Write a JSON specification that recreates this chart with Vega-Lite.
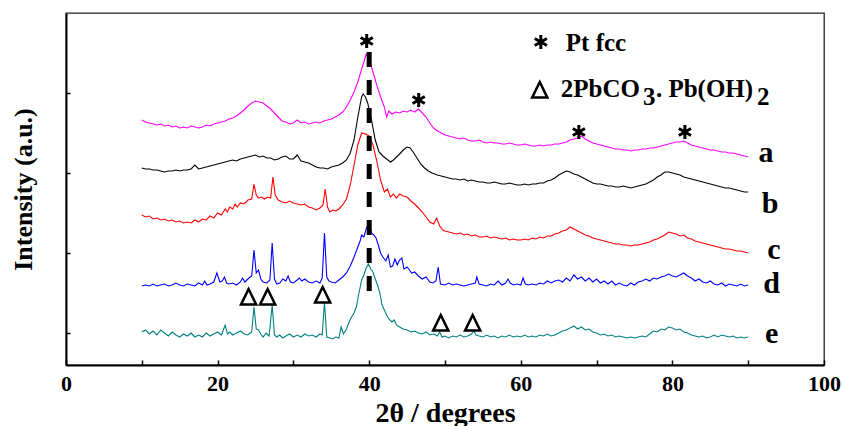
{
  "$schema": "https://vega.github.io/schema/vega-lite/v6.json",
  "width": 758,
  "height": 352,
  "autosize": "none",
  "padding": {"left": 66, "top": 13, "right": 18, "bottom": 61},
  "background": "white",
  "config": {
    "view": {"stroke": "#222", "strokeWidth": 1.3},
    "axis": {"labelFont": "Liberation Serif", "titleFont": "Liberation Serif", "grid": false},
    "text": {"font": "Liberation Serif"}
  },
  "datasets": {
    "curves": [
      {"s":"a","x":10,"y":245},{"s":"a","x":10.5,"y":243},{"s":"a","x":11,"y":242},{"s":"a","x":11.5,"y":241},{"s":"a","x":12,"y":240},{"s":"a","x":12.5,"y":241},{"s":"a","x":13,"y":239},{"s":"a","x":13.5,"y":240},{"s":"a","x":14,"y":238},{"s":"a","x":14.5,"y":239},{"s":"a","x":15,"y":237},{"s":"a","x":15.5,"y":238},{"s":"a","x":16,"y":237},{"s":"a","x":16.5,"y":239},{"s":"a","x":17,"y":238},{"s":"a","x":17.5,"y":237},{"s":"a","x":18,"y":238},{"s":"a","x":18.5,"y":240},{"s":"a","x":19,"y":239},{"s":"a","x":19.5,"y":241},{"s":"a","x":20,"y":242},{"s":"a","x":20.5,"y":243},{"s":"a","x":21,"y":244},{"s":"a","x":21.5,"y":246},{"s":"a","x":22,"y":247},{"s":"a","x":22.5,"y":249},{"s":"a","x":23,"y":252},{"s":"a","x":23.5,"y":255},{"s":"a","x":24,"y":259},{"s":"a","x":24.5,"y":262},{"s":"a","x":25,"y":264},{"s":"a","x":25.5,"y":263},{"s":"a","x":26,"y":262},{"s":"a","x":26.5,"y":259},{"s":"a","x":27,"y":256},{"s":"a","x":27.5,"y":252},{"s":"a","x":28,"y":248},{"s":"a","x":28.5,"y":244},{"s":"a","x":29,"y":243},{"s":"a","x":29.5,"y":241},{"s":"a","x":30,"y":242},{"s":"a","x":30.5,"y":245},{"s":"a","x":31,"y":242},{"s":"a","x":31.5,"y":243},{"s":"a","x":32,"y":241},{"s":"a","x":32.5,"y":242},{"s":"a","x":33,"y":243},{"s":"a","x":33.5,"y":242},{"s":"a","x":34,"y":244},{"s":"a","x":34.5,"y":245},{"s":"a","x":35,"y":246},{"s":"a","x":35.5,"y":248},{"s":"a","x":36,"y":250},{"s":"a","x":36.5,"y":253},{"s":"a","x":37,"y":258},{"s":"a","x":37.5,"y":265},{"s":"a","x":38,"y":273},{"s":"a","x":38.5,"y":283},{"s":"a","x":39,"y":296},{"s":"a","x":39.3,"y":303},{"s":"a","x":39.6,"y":311},{"s":"a","x":40,"y":306},{"s":"a","x":40.5,"y":293},{"s":"a","x":41,"y":280},{"s":"a","x":41.5,"y":268},{"s":"a","x":42,"y":258},{"s":"a","x":42.3,"y":248},{"s":"a","x":42.6,"y":254},{"s":"a","x":43,"y":251},{"s":"a","x":43.5,"y":253},{"s":"a","x":44,"y":252},{"s":"a","x":44.5,"y":254},{"s":"a","x":45,"y":253},{"s":"a","x":45.5,"y":255},{"s":"a","x":46,"y":253},{"s":"a","x":46.5,"y":256},{"s":"a","x":47,"y":252},{"s":"a","x":47.5,"y":248},{"s":"a","x":48,"y":242},{"s":"a","x":48.5,"y":237},{"s":"a","x":49,"y":234},{"s":"a","x":49.5,"y":232},{"s":"a","x":50,"y":230},{"s":"a","x":50.5,"y":229},{"s":"a","x":51,"y":228},{"s":"a","x":51.5,"y":227},{"s":"a","x":52,"y":226},{"s":"a","x":52.5,"y":227},{"s":"a","x":53,"y":225},{"s":"a","x":53.5,"y":224},{"s":"a","x":54,"y":224},{"s":"a","x":54.5,"y":225},{"s":"a","x":55,"y":223},{"s":"a","x":55.5,"y":222},{"s":"a","x":56,"y":223},{"s":"a","x":56.5,"y":222},{"s":"a","x":57,"y":222},{"s":"a","x":57.5,"y":221},{"s":"a","x":58,"y":221},{"s":"a","x":58.5,"y":222},{"s":"a","x":59,"y":221},{"s":"a","x":59.5,"y":220},{"s":"a","x":60,"y":220},{"s":"a","x":60.5,"y":221},{"s":"a","x":61,"y":220},{"s":"a","x":61.5,"y":219},{"s":"a","x":62,"y":219},{"s":"a","x":62.5,"y":220},{"s":"a","x":63,"y":219},{"s":"a","x":63.5,"y":220},{"s":"a","x":64,"y":220},{"s":"a","x":64.5,"y":221},{"s":"a","x":65,"y":221},{"s":"a","x":65.5,"y":222},{"s":"a","x":66,"y":223},{"s":"a","x":66.5,"y":225},{"s":"a","x":67,"y":226},{"s":"a","x":67.5,"y":227},{"s":"a","x":68,"y":229},{"s":"a","x":68.5,"y":226},{"s":"a","x":69,"y":224},{"s":"a","x":69.5,"y":222},{"s":"a","x":70,"y":221},{"s":"a","x":70.5,"y":220},{"s":"a","x":71,"y":219},{"s":"a","x":71.5,"y":218},{"s":"a","x":72,"y":217},{"s":"a","x":72.5,"y":216},{"s":"a","x":73,"y":216},{"s":"a","x":73.5,"y":215},{"s":"a","x":74,"y":215},{"s":"a","x":74.5,"y":214},{"s":"a","x":75,"y":215},{"s":"a","x":75.5,"y":215},{"s":"a","x":76,"y":216},{"s":"a","x":76.5,"y":216},{"s":"a","x":77,"y":217},{"s":"a","x":77.5,"y":217},{"s":"a","x":78,"y":218},{"s":"a","x":78.5,"y":219},{"s":"a","x":79,"y":220},{"s":"a","x":79.5,"y":221},{"s":"a","x":80,"y":222},{"s":"a","x":80.5,"y":223},{"s":"a","x":81,"y":223},{"s":"a","x":81.5,"y":224},{"s":"a","x":82,"y":222},{"s":"a","x":82.5,"y":220},{"s":"a","x":83,"y":219},{"s":"a","x":83.5,"y":218},{"s":"a","x":84,"y":217},{"s":"a","x":84.5,"y":216},{"s":"a","x":85,"y":215},{"s":"a","x":85.5,"y":215},{"s":"a","x":86,"y":214},{"s":"a","x":86.5,"y":213},{"s":"a","x":87,"y":213},{"s":"a","x":87.5,"y":212},{"s":"a","x":88,"y":212},{"s":"a","x":88.5,"y":211},{"s":"a","x":89,"y":210},{"s":"a","x":89.5,"y":209},{"s":"a","x":90,"y":208},

      {"s":"b","x":10,"y":197},{"s":"b","x":10.5,"y":196},{"s":"b","x":11,"y":196},{"s":"b","x":11.5,"y":195},{"s":"b","x":12,"y":195},{"s":"b","x":12.5,"y":194},{"s":"b","x":13,"y":193},{"s":"b","x":13.5,"y":194},{"s":"b","x":14,"y":194},{"s":"b","x":14.5,"y":195},{"s":"b","x":15,"y":194},{"s":"b","x":15.5,"y":195},{"s":"b","x":16,"y":195},{"s":"b","x":16.5,"y":196},{"s":"b","x":17,"y":200},{"s":"b","x":17.5,"y":196},{"s":"b","x":18,"y":197},{"s":"b","x":18.5,"y":198},{"s":"b","x":19,"y":199},{"s":"b","x":19.5,"y":200},{"s":"b","x":20,"y":201},{"s":"b","x":20.5,"y":202},{"s":"b","x":21,"y":203},{"s":"b","x":21.5,"y":204},{"s":"b","x":22,"y":205},{"s":"b","x":22.5,"y":204},{"s":"b","x":23,"y":206},{"s":"b","x":23.5,"y":207},{"s":"b","x":24,"y":208},{"s":"b","x":24.5,"y":209},{"s":"b","x":25,"y":210},{"s":"b","x":25.5,"y":208},{"s":"b","x":26,"y":209},{"s":"b","x":26.5,"y":207},{"s":"b","x":27,"y":207},{"s":"b","x":27.5,"y":205},{"s":"b","x":28,"y":206},{"s":"b","x":28.5,"y":208},{"s":"b","x":29,"y":209},{"s":"b","x":29.5,"y":206},{"s":"b","x":30,"y":206},{"s":"b","x":30.5,"y":210},{"s":"b","x":31,"y":204},{"s":"b","x":31.5,"y":203},{"s":"b","x":32,"y":202},{"s":"b","x":32.5,"y":200},{"s":"b","x":33,"y":198},{"s":"b","x":33.5,"y":197},{"s":"b","x":34,"y":197},{"s":"b","x":34.5,"y":196},{"s":"b","x":35,"y":198},{"s":"b","x":35.5,"y":199},{"s":"b","x":36,"y":200},{"s":"b","x":36.5,"y":202},{"s":"b","x":37,"y":205},{"s":"b","x":37.5,"y":212},{"s":"b","x":38,"y":225},{"s":"b","x":38.5,"y":248},{"s":"b","x":39,"y":268},{"s":"b","x":39.2,"y":271},{"s":"b","x":39.5,"y":268},{"s":"b","x":39.8,"y":262},{"s":"b","x":40.3,"y":245},{"s":"b","x":40.8,"y":225},{"s":"b","x":41.3,"y":213},{"s":"b","x":41.8,"y":209},{"s":"b","x":42.3,"y":206},{"s":"b","x":42.8,"y":203},{"s":"b","x":43.2,"y":205},{"s":"b","x":43.6,"y":208},{"s":"b","x":44,"y":211},{"s":"b","x":44.5,"y":215},{"s":"b","x":45,"y":218},{"s":"b","x":45.4,"y":217},{"s":"b","x":45.8,"y":213},{"s":"b","x":46.3,"y":207},{"s":"b","x":46.8,"y":201},{"s":"b","x":47.3,"y":197},{"s":"b","x":47.8,"y":194},{"s":"b","x":48.3,"y":192},{"s":"b","x":49,"y":190},{"s":"b","x":49.5,"y":189},{"s":"b","x":50,"y":188},{"s":"b","x":50.5,"y":187},{"s":"b","x":51,"y":186},{"s":"b","x":51.5,"y":186},{"s":"b","x":52,"y":185},{"s":"b","x":52.5,"y":186},{"s":"b","x":53,"y":184},{"s":"b","x":53.5,"y":185},{"s":"b","x":54,"y":184},{"s":"b","x":54.5,"y":183},{"s":"b","x":55,"y":183},{"s":"b","x":55.5,"y":182},{"s":"b","x":56,"y":182},{"s":"b","x":56.5,"y":183},{"s":"b","x":57,"y":182},{"s":"b","x":57.5,"y":181},{"s":"b","x":58,"y":181},{"s":"b","x":58.5,"y":182},{"s":"b","x":59,"y":181},{"s":"b","x":59.5,"y":180},{"s":"b","x":60,"y":180},{"s":"b","x":60.5,"y":181},{"s":"b","x":61,"y":180},{"s":"b","x":61.5,"y":181},{"s":"b","x":62,"y":181},{"s":"b","x":62.5,"y":182},{"s":"b","x":63,"y":182},{"s":"b","x":63.5,"y":184},{"s":"b","x":64,"y":185},{"s":"b","x":64.5,"y":187},{"s":"b","x":65,"y":190},{"s":"b","x":65.5,"y":192},{"s":"b","x":66,"y":194},{"s":"b","x":66.5,"y":193},{"s":"b","x":67,"y":191},{"s":"b","x":67.5,"y":190},{"s":"b","x":68,"y":188},{"s":"b","x":68.5,"y":186},{"s":"b","x":69,"y":184},{"s":"b","x":69.5,"y":182},{"s":"b","x":70,"y":181},{"s":"b","x":70.5,"y":181},{"s":"b","x":71,"y":180},{"s":"b","x":71.5,"y":179},{"s":"b","x":72,"y":179},{"s":"b","x":72.5,"y":178},{"s":"b","x":73,"y":178},{"s":"b","x":73.5,"y":179},{"s":"b","x":74,"y":178},{"s":"b","x":74.5,"y":177},{"s":"b","x":75,"y":178},{"s":"b","x":75.5,"y":179},{"s":"b","x":76,"y":180},{"s":"b","x":76.5,"y":181},{"s":"b","x":77,"y":183},{"s":"b","x":77.5,"y":185},{"s":"b","x":78,"y":188},{"s":"b","x":78.5,"y":190},{"s":"b","x":79,"y":193},{"s":"b","x":79.5,"y":193},{"s":"b","x":80,"y":192},{"s":"b","x":80.5,"y":191},{"s":"b","x":81,"y":190},{"s":"b","x":81.5,"y":188},{"s":"b","x":82,"y":187},{"s":"b","x":82.5,"y":186},{"s":"b","x":83,"y":185},{"s":"b","x":83.5,"y":184},{"s":"b","x":84,"y":183},{"s":"b","x":84.5,"y":182},{"s":"b","x":85,"y":181},{"s":"b","x":85.5,"y":180},{"s":"b","x":86,"y":179},{"s":"b","x":86.5,"y":178},{"s":"b","x":87,"y":177},{"s":"b","x":87.5,"y":177},{"s":"b","x":88,"y":176},{"s":"b","x":88.5,"y":175},{"s":"b","x":89,"y":174},{"s":"b","x":89.5,"y":173},{"s":"b","x":90,"y":173},

      {"s":"c","x":10,"y":150},{"s":"c","x":10.5,"y":148},{"s":"c","x":11,"y":149},{"s":"c","x":11.5,"y":146},{"s":"c","x":12,"y":147},{"s":"c","x":12.5,"y":145},{"s":"c","x":13,"y":146},{"s":"c","x":13.5,"y":144},{"s":"c","x":14,"y":145},{"s":"c","x":14.5,"y":143},{"s":"c","x":15,"y":144},{"s":"c","x":15.5,"y":142},{"s":"c","x":16,"y":143},{"s":"c","x":16.5,"y":142},{"s":"c","x":17,"y":145},{"s":"c","x":17.5,"y":143},{"s":"c","x":18,"y":146},{"s":"c","x":18.5,"y":145},{"s":"c","x":19,"y":149},{"s":"c","x":19.5,"y":147},{"s":"c","x":20,"y":152},{"s":"c","x":20.5,"y":150},{"s":"c","x":21,"y":156},{"s":"c","x":21.3,"y":153},{"s":"c","x":21.6,"y":158},{"s":"c","x":22,"y":156},{"s":"c","x":22.3,"y":161},{"s":"c","x":22.6,"y":158},{"s":"c","x":23,"y":162},{"s":"c","x":23.5,"y":161},{"s":"c","x":24,"y":165},{"s":"c","x":24.5,"y":166},{"s":"c","x":24.8,"y":181},{"s":"c","x":25.1,"y":170},{"s":"c","x":25.4,"y":167},{"s":"c","x":25.8,"y":168},{"s":"c","x":26.2,"y":166},{"s":"c","x":26.6,"y":168},{"s":"c","x":27,"y":167},{"s":"c","x":27.3,"y":188},{"s":"c","x":27.6,"y":170},{"s":"c","x":28,"y":165},{"s":"c","x":28.5,"y":163},{"s":"c","x":29,"y":162},{"s":"c","x":29.5,"y":164},{"s":"c","x":30,"y":162},{"s":"c","x":30.5,"y":161},{"s":"c","x":31,"y":160},{"s":"c","x":31.5,"y":161},{"s":"c","x":32,"y":158},{"s":"c","x":32.5,"y":157},{"s":"c","x":33,"y":155},{"s":"c","x":33.5,"y":157},{"s":"c","x":33.9,"y":160},{"s":"c","x":34.2,"y":176},{"s":"c","x":34.5,"y":158},{"s":"c","x":34.8,"y":153},{"s":"c","x":35.2,"y":155},{"s":"c","x":35.6,"y":154},{"s":"c","x":36,"y":156},{"s":"c","x":36.5,"y":160},{"s":"c","x":37,"y":166},{"s":"c","x":37.5,"y":180},{"s":"c","x":38,"y":200},{"s":"c","x":38.5,"y":220},{"s":"c","x":39,"y":232},{"s":"c","x":39.5,"y":231},{"s":"c","x":40,"y":229},{"s":"c","x":40.5,"y":220},{"s":"c","x":41,"y":204},{"s":"c","x":41.5,"y":185},{"s":"c","x":42,"y":173},{"s":"c","x":42.4,"y":176},{"s":"c","x":42.8,"y":168},{"s":"c","x":43.2,"y":171},{"s":"c","x":43.6,"y":167},{"s":"c","x":44,"y":171},{"s":"c","x":44.5,"y":169},{"s":"c","x":45,"y":168},{"s":"c","x":45.5,"y":164},{"s":"c","x":46,"y":161},{"s":"c","x":46.5,"y":157},{"s":"c","x":47,"y":153},{"s":"c","x":47.5,"y":148},{"s":"c","x":48,"y":143},{"s":"c","x":48.5,"y":141},{"s":"c","x":48.9,"y":147},{"s":"c","x":49.3,"y":139},{"s":"c","x":49.7,"y":135},{"s":"c","x":50,"y":134},{"s":"c","x":50.5,"y":133},{"s":"c","x":51,"y":132},{"s":"c","x":51.5,"y":131},{"s":"c","x":52,"y":132},{"s":"c","x":52.5,"y":130},{"s":"c","x":53,"y":131},{"s":"c","x":53.5,"y":129},{"s":"c","x":54,"y":130},{"s":"c","x":54.5,"y":128},{"s":"c","x":55,"y":128},{"s":"c","x":55.5,"y":129},{"s":"c","x":56,"y":127},{"s":"c","x":56.5,"y":128},{"s":"c","x":57,"y":127},{"s":"c","x":57.5,"y":126},{"s":"c","x":58,"y":127},{"s":"c","x":58.5,"y":125},{"s":"c","x":59,"y":126},{"s":"c","x":59.5,"y":125},{"s":"c","x":60,"y":125},{"s":"c","x":60.5,"y":126},{"s":"c","x":61,"y":125},{"s":"c","x":61.5,"y":127},{"s":"c","x":62,"y":126},{"s":"c","x":62.5,"y":128},{"s":"c","x":63,"y":127},{"s":"c","x":63.5,"y":129},{"s":"c","x":64,"y":129},{"s":"c","x":64.5,"y":131},{"s":"c","x":65,"y":132},{"s":"c","x":65.5,"y":134},{"s":"c","x":66,"y":135},{"s":"c","x":66.5,"y":138},{"s":"c","x":67,"y":136},{"s":"c","x":67.5,"y":134},{"s":"c","x":68,"y":132},{"s":"c","x":68.5,"y":130},{"s":"c","x":69,"y":129},{"s":"c","x":69.5,"y":127},{"s":"c","x":70,"y":126},{"s":"c","x":70.5,"y":125},{"s":"c","x":71,"y":124},{"s":"c","x":71.5,"y":123},{"s":"c","x":72,"y":122},{"s":"c","x":72.5,"y":121},{"s":"c","x":73,"y":121},{"s":"c","x":73.5,"y":120},{"s":"c","x":74,"y":120},{"s":"c","x":74.5,"y":119},{"s":"c","x":75,"y":120},{"s":"c","x":75.5,"y":120},{"s":"c","x":76,"y":121},{"s":"c","x":76.5,"y":122},{"s":"c","x":77,"y":123},{"s":"c","x":77.5,"y":125},{"s":"c","x":78,"y":126},{"s":"c","x":78.5,"y":128},{"s":"c","x":79,"y":130},{"s":"c","x":79.5,"y":133},{"s":"c","x":80,"y":132},{"s":"c","x":80.5,"y":131},{"s":"c","x":81,"y":129},{"s":"c","x":81.5,"y":130},{"s":"c","x":82,"y":127},{"s":"c","x":82.5,"y":126},{"s":"c","x":83,"y":124},{"s":"c","x":83.5,"y":123},{"s":"c","x":84,"y":122},{"s":"c","x":84.5,"y":121},{"s":"c","x":85,"y":120},{"s":"c","x":85.5,"y":119},{"s":"c","x":86,"y":118},{"s":"c","x":86.5,"y":117},{"s":"c","x":87,"y":116},{"s":"c","x":87.5,"y":116},{"s":"c","x":88,"y":115},{"s":"c","x":88.5,"y":114},{"s":"c","x":89,"y":114},{"s":"c","x":89.5,"y":113},{"s":"c","x":90,"y":112},

      {"s":"d","x":10,"y":79},{"s":"d","x":10.5,"y":80},{"s":"d","x":11,"y":79},{"s":"d","x":11.5,"y":81},{"s":"d","x":12,"y":79},{"s":"d","x":12.5,"y":80},{"s":"d","x":13,"y":81},{"s":"d","x":13.5,"y":79},{"s":"d","x":14,"y":80},{"s":"d","x":14.5,"y":82},{"s":"d","x":15,"y":80},{"s":"d","x":15.5,"y":79},{"s":"d","x":16,"y":81},{"s":"d","x":16.5,"y":80},{"s":"d","x":17,"y":79},{"s":"d","x":17.5,"y":82},{"s":"d","x":18,"y":80},{"s":"d","x":18.3,"y":84},{"s":"d","x":18.6,"y":80},{"s":"d","x":19,"y":81},{"s":"d","x":19.5,"y":83},{"s":"d","x":19.9,"y":92},{"s":"d","x":20.3,"y":83},{"s":"d","x":20.6,"y":84},{"s":"d","x":20.9,"y":88},{"s":"d","x":21.2,"y":82},{"s":"d","x":21.5,"y":81},{"s":"d","x":22,"y":82},{"s":"d","x":22.5,"y":80},{"s":"d","x":23,"y":83},{"s":"d","x":23.3,"y":87},{"s":"d","x":23.6,"y":83},{"s":"d","x":24,"y":86},{"s":"d","x":24.3,"y":88},{"s":"d","x":24.5,"y":89},{"s":"d","x":24.8,"y":115},{"s":"d","x":25.1,"y":92},{"s":"d","x":25.4,"y":95},{"s":"d","x":25.7,"y":86},{"s":"d","x":26,"y":83},{"s":"d","x":26.5,"y":82},{"s":"d","x":26.9,"y":85},{"s":"d","x":27.2,"y":122},{"s":"d","x":27.5,"y":86},{"s":"d","x":27.8,"y":81},{"s":"d","x":28.2,"y":82},{"s":"d","x":28.6,"y":86},{"s":"d","x":29,"y":84},{"s":"d","x":29.3,"y":89},{"s":"d","x":29.6,"y":83},{"s":"d","x":30,"y":82},{"s":"d","x":30.5,"y":85},{"s":"d","x":30.8,"y":87},{"s":"d","x":31.1,"y":84},{"s":"d","x":31.5,"y":86},{"s":"d","x":32,"y":83},{"s":"d","x":32.5,"y":82},{"s":"d","x":33,"y":84},{"s":"d","x":33.5,"y":82},{"s":"d","x":33.8,"y":87},{"s":"d","x":34.1,"y":132},{"s":"d","x":34.4,"y":88},{"s":"d","x":34.7,"y":84},{"s":"d","x":35,"y":83},{"s":"d","x":35.5,"y":82},{"s":"d","x":36,"y":85},{"s":"d","x":36.5,"y":88},{"s":"d","x":37,"y":92},{"s":"d","x":37.5,"y":99},{"s":"d","x":38,"y":108},{"s":"d","x":38.5,"y":118},{"s":"d","x":38.8,"y":124},{"s":"d","x":39,"y":130},{"s":"d","x":39.3,"y":128},{"s":"d","x":39.6,"y":136},{"s":"d","x":40,"y":143},{"s":"d","x":40.3,"y":132},{"s":"d","x":40.6,"y":130},{"s":"d","x":40.9,"y":127},{"s":"d","x":41.2,"y":120},{"s":"d","x":41.5,"y":112},{"s":"d","x":41.8,"y":108},{"s":"d","x":42.2,"y":104},{"s":"d","x":42.5,"y":110},{"s":"d","x":42.8,"y":98},{"s":"d","x":43.1,"y":99},{"s":"d","x":43.4,"y":106},{"s":"d","x":43.7,"y":100},{"s":"d","x":44,"y":105},{"s":"d","x":44.3,"y":107},{"s":"d","x":44.6,"y":96},{"s":"d","x":45,"y":98},{"s":"d","x":45.3,"y":95},{"s":"d","x":45.6,"y":92},{"s":"d","x":46,"y":93},{"s":"d","x":46.5,"y":89},{"s":"d","x":47,"y":86},{"s":"d","x":47.5,"y":88},{"s":"d","x":48,"y":83},{"s":"d","x":48.4,"y":82},{"s":"d","x":48.8,"y":84},{"s":"d","x":49.1,"y":98},{"s":"d","x":49.4,"y":81},{"s":"d","x":50,"y":80},{"s":"d","x":50.5,"y":82},{"s":"d","x":51,"y":80},{"s":"d","x":51.5,"y":81},{"s":"d","x":52,"y":80},{"s":"d","x":52.5,"y":79},{"s":"d","x":53,"y":80},{"s":"d","x":53.5,"y":81},{"s":"d","x":54,"y":82},{"s":"d","x":54.2,"y":88},{"s":"d","x":54.5,"y":81},{"s":"d","x":55,"y":80},{"s":"d","x":55.5,"y":79},{"s":"d","x":56,"y":81},{"s":"d","x":56.5,"y":80},{"s":"d","x":57,"y":84},{"s":"d","x":57.5,"y":80},{"s":"d","x":58,"y":82},{"s":"d","x":58.3,"y":86},{"s":"d","x":58.6,"y":82},{"s":"d","x":59,"y":80},{"s":"d","x":59.5,"y":81},{"s":"d","x":60,"y":80},{"s":"d","x":60.3,"y":87},{"s":"d","x":60.6,"y":81},{"s":"d","x":61,"y":80},{"s":"d","x":61.5,"y":81},{"s":"d","x":62,"y":80},{"s":"d","x":62.5,"y":82},{"s":"d","x":63,"y":81},{"s":"d","x":63.5,"y":84},{"s":"d","x":64,"y":82},{"s":"d","x":64.5,"y":84},{"s":"d","x":65,"y":85},{"s":"d","x":65.5,"y":83},{"s":"d","x":66,"y":87},{"s":"d","x":66.5,"y":84},{"s":"d","x":67,"y":90},{"s":"d","x":67.5,"y":86},{"s":"d","x":68,"y":88},{"s":"d","x":68.5,"y":84},{"s":"d","x":69,"y":87},{"s":"d","x":69.5,"y":83},{"s":"d","x":70,"y":86},{"s":"d","x":70.5,"y":82},{"s":"d","x":71,"y":84},{"s":"d","x":71.5,"y":81},{"s":"d","x":72,"y":84},{"s":"d","x":72.5,"y":80},{"s":"d","x":73,"y":82},{"s":"d","x":73.5,"y":80},{"s":"d","x":74,"y":79},{"s":"d","x":74.5,"y":82},{"s":"d","x":75,"y":80},{"s":"d","x":75.5,"y":83},{"s":"d","x":76,"y":84},{"s":"d","x":76.5,"y":86},{"s":"d","x":77,"y":84},{"s":"d","x":77.5,"y":87},{"s":"d","x":78,"y":86},{"s":"d","x":78.5,"y":88},{"s":"d","x":79,"y":89},{"s":"d","x":79.5,"y":91},{"s":"d","x":80,"y":89},{"s":"d","x":80.5,"y":88},{"s":"d","x":81,"y":90},{"s":"d","x":81.5,"y":92},{"s":"d","x":82,"y":89},{"s":"d","x":82.5,"y":87},{"s":"d","x":83,"y":84},{"s":"d","x":83.5,"y":86},{"s":"d","x":84,"y":83},{"s":"d","x":84.5,"y":82},{"s":"d","x":85,"y":84},{"s":"d","x":85.5,"y":81},{"s":"d","x":86,"y":80},{"s":"d","x":86.5,"y":82},{"s":"d","x":87,"y":79},{"s":"d","x":87.5,"y":81},{"s":"d","x":88,"y":80},{"s":"d","x":88.5,"y":79},{"s":"d","x":89,"y":81},{"s":"d","x":89.5,"y":79},{"s":"d","x":90,"y":80},

      {"s":"e","x":10,"y":33},{"s":"e","x":10.5,"y":35},{"s":"e","x":11,"y":31},{"s":"e","x":11.5,"y":34},{"s":"e","x":12,"y":30},{"s":"e","x":12.5,"y":35},{"s":"e","x":13,"y":32},{"s":"e","x":13.5,"y":29},{"s":"e","x":14,"y":33},{"s":"e","x":14.5,"y":30},{"s":"e","x":15,"y":28},{"s":"e","x":15.5,"y":31},{"s":"e","x":16,"y":29},{"s":"e","x":16.5,"y":32},{"s":"e","x":17,"y":28},{"s":"e","x":17.5,"y":30},{"s":"e","x":18,"y":28},{"s":"e","x":18.5,"y":32},{"s":"e","x":19,"y":29},{"s":"e","x":19.5,"y":31},{"s":"e","x":20,"y":33},{"s":"e","x":20.5,"y":30},{"s":"e","x":21,"y":40},{"s":"e","x":21.3,"y":31},{"s":"e","x":21.6,"y":33},{"s":"e","x":22,"y":30},{"s":"e","x":22.5,"y":32},{"s":"e","x":23,"y":34},{"s":"e","x":23.5,"y":31},{"s":"e","x":24,"y":30},{"s":"e","x":24.5,"y":33},{"s":"e","x":24.8,"y":58},{"s":"e","x":25.1,"y":36},{"s":"e","x":25.4,"y":35},{"s":"e","x":25.7,"y":31},{"s":"e","x":26,"y":28},{"s":"e","x":26.4,"y":32},{"s":"e","x":26.8,"y":29},{"s":"e","x":27.2,"y":60},{"s":"e","x":27.5,"y":30},{"s":"e","x":27.8,"y":28},{"s":"e","x":28.2,"y":30},{"s":"e","x":28.6,"y":27},{"s":"e","x":29,"y":29},{"s":"e","x":29.5,"y":31},{"s":"e","x":30,"y":28},{"s":"e","x":30.5,"y":30},{"s":"e","x":31,"y":28},{"s":"e","x":31.5,"y":31},{"s":"e","x":32,"y":29},{"s":"e","x":32.5,"y":30},{"s":"e","x":33,"y":28},{"s":"e","x":33.5,"y":31},{"s":"e","x":33.8,"y":30},{"s":"e","x":34.1,"y":63},{"s":"e","x":34.4,"y":28},{"s":"e","x":34.8,"y":27},{"s":"e","x":35.2,"y":26},{"s":"e","x":35.6,"y":28},{"s":"e","x":36,"y":27},{"s":"e","x":36.3,"y":38},{"s":"e","x":36.6,"y":31},{"s":"e","x":37,"y":36},{"s":"e","x":37.3,"y":42},{"s":"e","x":37.6,"y":47},{"s":"e","x":38,"y":52},{"s":"e","x":38.3,"y":58},{"s":"e","x":38.6,"y":70},{"s":"e","x":39,"y":85},{"s":"e","x":39.3,"y":90},{"s":"e","x":39.6,"y":97},{"s":"e","x":39.9,"y":101},{"s":"e","x":40.2,"y":96},{"s":"e","x":40.5,"y":93},{"s":"e","x":40.8,"y":86},{"s":"e","x":41.1,"y":80},{"s":"e","x":41.4,"y":72},{"s":"e","x":41.7,"y":60},{"s":"e","x":42,"y":55},{"s":"e","x":42.3,"y":50},{"s":"e","x":42.6,"y":46},{"s":"e","x":43,"y":43},{"s":"e","x":43.3,"y":45},{"s":"e","x":43.6,"y":40},{"s":"e","x":44,"y":38},{"s":"e","x":44.5,"y":36},{"s":"e","x":45,"y":35},{"s":"e","x":45.5,"y":33},{"s":"e","x":46,"y":34},{"s":"e","x":46.5,"y":32},{"s":"e","x":47,"y":31},{"s":"e","x":47.5,"y":33},{"s":"e","x":48,"y":30},{"s":"e","x":48.5,"y":31},{"s":"e","x":49,"y":29},{"s":"e","x":49.3,"y":33},{"s":"e","x":49.6,"y":28},{"s":"e","x":50,"y":29},{"s":"e","x":50.5,"y":27},{"s":"e","x":51,"y":29},{"s":"e","x":51.5,"y":28},{"s":"e","x":52,"y":30},{"s":"e","x":52.5,"y":28},{"s":"e","x":53,"y":29},{"s":"e","x":53.5,"y":31},{"s":"e","x":53.8,"y":34},{"s":"e","x":54.1,"y":30},{"s":"e","x":54.5,"y":29},{"s":"e","x":55,"y":28},{"s":"e","x":55.5,"y":30},{"s":"e","x":56,"y":28},{"s":"e","x":56.5,"y":29},{"s":"e","x":57,"y":27},{"s":"e","x":57.5,"y":29},{"s":"e","x":58,"y":28},{"s":"e","x":58.5,"y":30},{"s":"e","x":59,"y":28},{"s":"e","x":59.5,"y":29},{"s":"e","x":60,"y":28},{"s":"e","x":60.5,"y":30},{"s":"e","x":61,"y":28},{"s":"e","x":61.5,"y":29},{"s":"e","x":62,"y":28},{"s":"e","x":62.5,"y":30},{"s":"e","x":63,"y":29},{"s":"e","x":63.5,"y":31},{"s":"e","x":64,"y":29},{"s":"e","x":64.5,"y":30},{"s":"e","x":65,"y":32},{"s":"e","x":65.5,"y":34},{"s":"e","x":66,"y":35},{"s":"e","x":66.5,"y":37},{"s":"e","x":67,"y":39},{"s":"e","x":67.5,"y":36},{"s":"e","x":68,"y":38},{"s":"e","x":68.5,"y":35},{"s":"e","x":69,"y":36},{"s":"e","x":69.5,"y":33},{"s":"e","x":70,"y":32},{"s":"e","x":70.5,"y":30},{"s":"e","x":71,"y":31},{"s":"e","x":71.5,"y":29},{"s":"e","x":72,"y":30},{"s":"e","x":72.5,"y":28},{"s":"e","x":73,"y":29},{"s":"e","x":73.5,"y":28},{"s":"e","x":74,"y":27},{"s":"e","x":74.5,"y":28},{"s":"e","x":75,"y":27},{"s":"e","x":75.5,"y":28},{"s":"e","x":76,"y":29},{"s":"e","x":76.5,"y":28},{"s":"e","x":77,"y":31},{"s":"e","x":77.5,"y":34},{"s":"e","x":78,"y":33},{"s":"e","x":78.5,"y":36},{"s":"e","x":79,"y":35},{"s":"e","x":79.5,"y":38},{"s":"e","x":80,"y":37},{"s":"e","x":80.5,"y":35},{"s":"e","x":81,"y":36},{"s":"e","x":81.5,"y":33},{"s":"e","x":82,"y":32},{"s":"e","x":82.5,"y":30},{"s":"e","x":83,"y":29},{"s":"e","x":83.5,"y":28},{"s":"e","x":84,"y":29},{"s":"e","x":84.5,"y":27},{"s":"e","x":85,"y":28},{"s":"e","x":85.5,"y":30},{"s":"e","x":86,"y":28},{"s":"e","x":86.5,"y":30},{"s":"e","x":87,"y":29},{"s":"e","x":87.5,"y":28},{"s":"e","x":88,"y":29},{"s":"e","x":88.5,"y":27},{"s":"e","x":89,"y":28},{"s":"e","x":89.5,"y":27},{"s":"e","x":90,"y":28}
    ],
    "dash": [{"x": 40, "y": 313, "y2": 65}],
    "stars": [
      {"x": 39.67, "y": 324}, {"x": 46.53, "y": 265}, {"x": 67.66, "y": 233}, {"x": 81.65, "y": 233}, {"x": 62.64, "y": 323}
    ],
    "triangles": [
      {"x": 24.09, "y": 68}, {"x": 26.6, "y": 68}, {"x": 33.86, "y": 70}, {"x": 49.44, "y": 42}, {"x": 53.65, "y": 42}, {"x": 62.5, "y": 275}
    ],
    "curveLabels": [
      {"x": 92.35, "y": 203, "t": "a"}, {"x": 92.9, "y": 152, "t": "b"}, {"x": 93.4, "y": 106, "t": "c"}, {"x": 93.1, "y": 72, "t": "d"}, {"x": 93.1, "y": 22, "t": "e"}
    ],
    "legendText": [
      {"x": 65.94, "y": 314, "t": "Pt fcc"},
      {"x": 65.28, "y": 268, "t": "2PbCO"},
      {"x": 76.11, "y": 260, "t": "3"},
      {"x": 77.82, "y": 268, "t": ". Pb(OH)"},
      {"x": 91.16, "y": 260, "t": "2"}
    ]
  },
  "layer": [
    {
      "data": {"name": "curves"},
      "mark": {"type": "line", "strokeWidth": 1.1},
      "encoding": {
        "x": {
          "field": "x", "type": "quantitative",
          "scale": {"domain": [0, 100], "nice": false},
          "axis": {
            "title": "2θ / degrees",
            "values": [0, 10, 20, 30, 40, 50, 60, 70, 80, 90, 100],
            "labelExpr": "datum.value % 20 == 0 ? datum.label : ''",
            "labelFont": "Liberation Serif",
            "labelFontSize": 22, "labelFontWeight": "bold", "labelColor": "black",
            "labelPadding": 13, "labelFlush": false,
            "tickSize": -5, "tickColor": "black", "tickWidth": 1.5,
            "domainColor": "black", "domainWidth": 2,
            "titleFont": "Liberation Serif",
            "titleFontSize": 28, "titleFontWeight": "bold", "titleColor": "black",
            "titlePadding": 5
          }
        },
        "y": {
          "field": "y", "type": "quantitative",
          "scale": {"domain": [0, 352], "nice": false},
          "axis": {
            "title": "Intensity (a.u.)",
            "values": [32, 112, 192, 272],
            "labels": false,
            "tickSize": -4, "tickColor": "black", "tickWidth": 1.5,
            "domainColor": "black", "domainWidth": 2,
            "titleFont": "Liberation Serif",
            "titleFontSize": 26, "titleFontWeight": "bold", "titleColor": "black",
            "titlePadding": 29
          }
        },
        "color": {
          "field": "s", "type": "nominal",
          "scale": {"domain": ["a", "b", "c", "d", "e"], "range": ["#ff00ff", "#000000", "#ff0000", "#0000ff", "#008080"]},
          "legend": null
        }
      }
    },
    {
      "data": {"name": "dash"},
      "mark": {"type": "rule", "color": "black", "strokeWidth": 5, "strokeDash": [15, 13], "strokeCap": "butt"},
      "encoding": {
        "x": {"field": "x", "type": "quantitative"},
        "y": {"field": "y", "type": "quantitative"},
        "y2": {"field": "y2"}
      }
    },
    {
      "data": {"name": "stars"},
      "mark": {"type": "point", "shape": "M0,-1L0,1M-0.87,-0.5L0.87,0.5M-0.87,0.5L0.87,-0.5", "size": 196, "filled": false, "stroke": "black", "strokeWidth": 3, "opacity": 1},
      "encoding": {
        "x": {"field": "x", "type": "quantitative"},
        "y": {"field": "y", "type": "quantitative"}
      }
    },
    {
      "data": {"name": "triangles"},
      "mark": {"type": "point", "shape": "M0,-1L-0.95,0.95L0.95,0.95Z", "size": 256, "filled": false, "stroke": "black", "strokeWidth": 2.5, "opacity": 1},
      "encoding": {
        "x": {"field": "x", "type": "quantitative"},
        "y": {"field": "y", "type": "quantitative"}
      }
    },
    {
      "data": {"name": "curveLabels"},
      "mark": {"type": "text", "font": "Liberation Serif", "fontWeight": "bold", "fontSize": 30, "align": "center", "baseline": "alphabetic", "color": "black"},
      "encoding": {
        "x": {"field": "x", "type": "quantitative"},
        "y": {"field": "y", "type": "quantitative"},
        "text": {"field": "t"}
      }
    },
    {
      "data": {"name": "legendText"},
      "mark": {"type": "text", "font": "Liberation Serif", "fontWeight": "bold", "fontSize": 25, "align": "left", "baseline": "alphabetic", "color": "black"},
      "encoding": {
        "x": {"field": "x", "type": "quantitative"},
        "y": {"field": "y", "type": "quantitative"},
        "text": {"field": "t"}
      }
    }
  ]
}
